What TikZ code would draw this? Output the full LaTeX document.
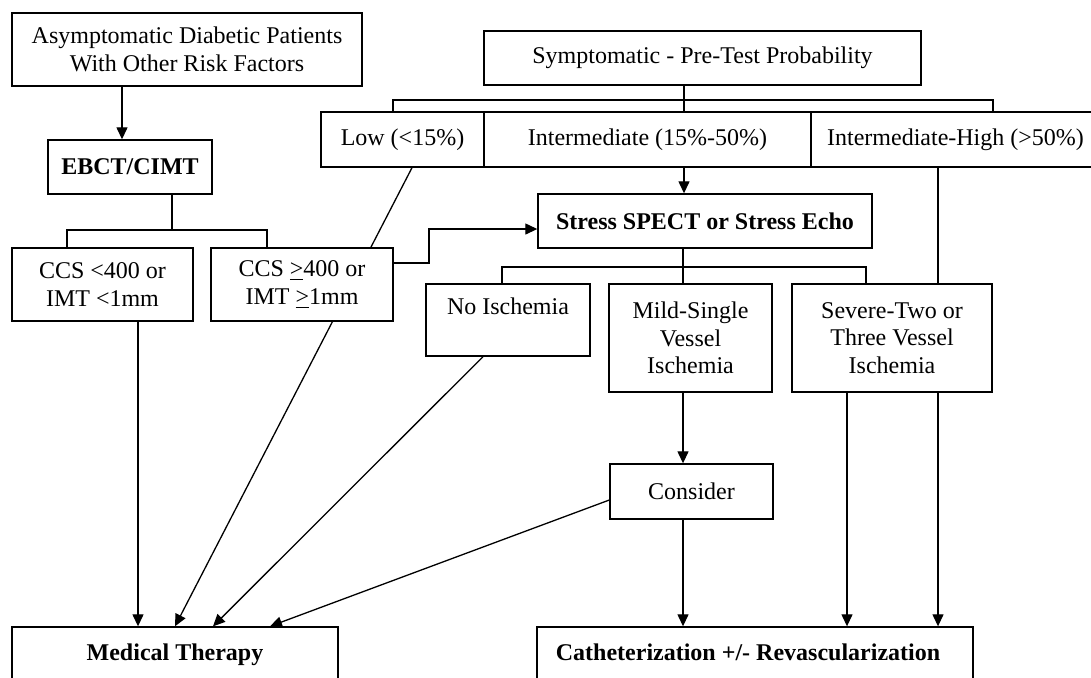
\documentclass[tikz,border=0pt]{standalone}
\usepackage{fontspec}
\setmainfont{Liberation Serif}
\usetikzlibrary{arrows.meta,backgrounds}
\begin{document}
\begin{tikzpicture}[x=0.5pt,y=-0.5pt,
  box/.style={draw,line width=0.7pt,fill=white,align=center,inner sep=0pt,font=\fontsize{12}{13.8}\selectfont},
  bbox/.style={box,font=\fontsize{12}{13.8}\selectfont\bfseries},
  endbox/.style={bbox,text height=8.5pt,text depth=2.5pt},
  ln/.style={line width=0.65pt},
  arr/.style={ln,-{Triangle[length=6pt,width=5.5pt]}}]
\useasboundingbox (0,0) rectangle (1091,677);
\clip (0,0) rectangle (1091,677);
% nodes
\node[box,minimum width=175pt,minimum height=36.5pt] (asym) at (187,49.5) {Asymptomatic Diabetic Patients\\With Other Risk Factors};
\node[bbox,minimum width=82pt,minimum height=27pt] (ebct) at (130,167) {EBCT/CIMT};
\node[box,minimum width=90.5pt,minimum height=36.5pt] (ccs1) at (102.5,284.5) {CCS <400 or\\IMT <1mm};
\node[box,minimum width=91pt,minimum height=36.5pt] (ccs2) at (302,284.5) {CCS \underline{>}400 or\\IMT \underline{>}1mm};
\node[box,minimum width=218.5pt,minimum height=27pt] (sym) at (702.5,58) {Symptomatic - Pre-Test Probability};
\node[box,minimum width=81.5pt,minimum height=27.5pt] (low) at (402.5,139.5) {Low (<15\%)};
\node[box,minimum width=163.5pt,minimum height=27.5pt] (inter) at (647.5,139.5) {Intermediate (15\%-50\%)};
\node[box,minimum width=144.5pt,minimum height=27.5pt] (ihigh) at (955.5,139.5) {Intermediate-High (>50\%)};
\node[bbox,minimum width=167pt,minimum height=27pt] (stress) at (705,221) {Stress SPECT or Stress Echo};
\node[box,minimum width=82pt,minimum height=36pt] (noisch) at (508,320) {No Ischemia\\\mbox{}};
\node[box,minimum width=81.5pt,minimum height=54pt] (mild) at (690.5,338) {Mild-Single\\Vessel\\Ischemia};
\node[box,minimum width=100pt,minimum height=54pt] (severe) at (892,338) {Severe-Two or\\Three Vessel\\Ischemia};
\node[box,minimum width=81.5pt,minimum height=27.5pt] (consider) at (691.5,491.5) {Consider};
\node[endbox,minimum width=163pt,minimum height=27pt] (mt) at (175,654) {Medical Therapy};
\node[endbox,minimum width=218pt,minimum height=27pt] (cath) at (755,654) {Catheterization +/- Revascularization\hspace*{7pt}};
% junctions
\coordinate (j1) at (172,230);
\coordinate (j2) at (684,100);
\coordinate (j3) at (429,246);
\coordinate (j4) at (683,267);
% connectors
\draw[arr] ([xshift=-4pt]ebct.north |- asym.south) -- ([xshift=-4pt]ebct.north);
\draw[ln] (j1 |- ebct.south) -- (j1);
\draw[ln] ([xshift=-17.75pt]ccs1.north) |- (j1) -| ([xshift=-17.5pt]ccs2.north);
\draw[ln] (j2 |- sym.south) -- (j2 |- inter.north);
\draw[ln] ([xshift=-4.75pt]low.north) |- (j2) -| ([xshift=18.75pt]ihigh.north);
\draw[arr] (j2 |- inter.south) -- (j2 |- stress.north);
\draw[arr] ([yshift=10.75pt]ccs2.east) -| (j3) |- ([yshift=-4pt]stress.west);
\draw[ln] (j4 |- stress.south) -- (j4 |- mild.north);
\draw[ln] ([xshift=-3pt]noisch.north) |- (j4) -| ([xshift=-13pt]severe.north);
\draw[arr] ([xshift=17.75pt]ccs1.south) -- ([xshift=17.75pt]ccs1.south |- mt.north);
\draw[arr] ([xshift=-12.5pt]noisch.south) -- ([xshift=19pt]mt.north);
\draw[arr] (j4 |- mild.south) -- (j4 |- consider.north);
\draw[arr] ([yshift=-4.25pt]consider.west) -- ([xshift=47.5pt]mt.north);
\draw[arr] (j4 |- consider.south) -- (j4 |- cath.north);
\draw[arr] ([xshift=-22.5pt]severe.south) -- ([xshift=-22.5pt]severe.south |- cath.north);
\begin{pgfonlayer}{background}
\draw[arr] ([xshift=4.75pt]low.south) -- (mt.north);
\draw[arr] ([xshift=-8.75pt]ihigh.south) -- ([xshift=-8.75pt]ihigh.south |- cath.north);
\end{pgfonlayer}
\end{tikzpicture}
\end{document}
